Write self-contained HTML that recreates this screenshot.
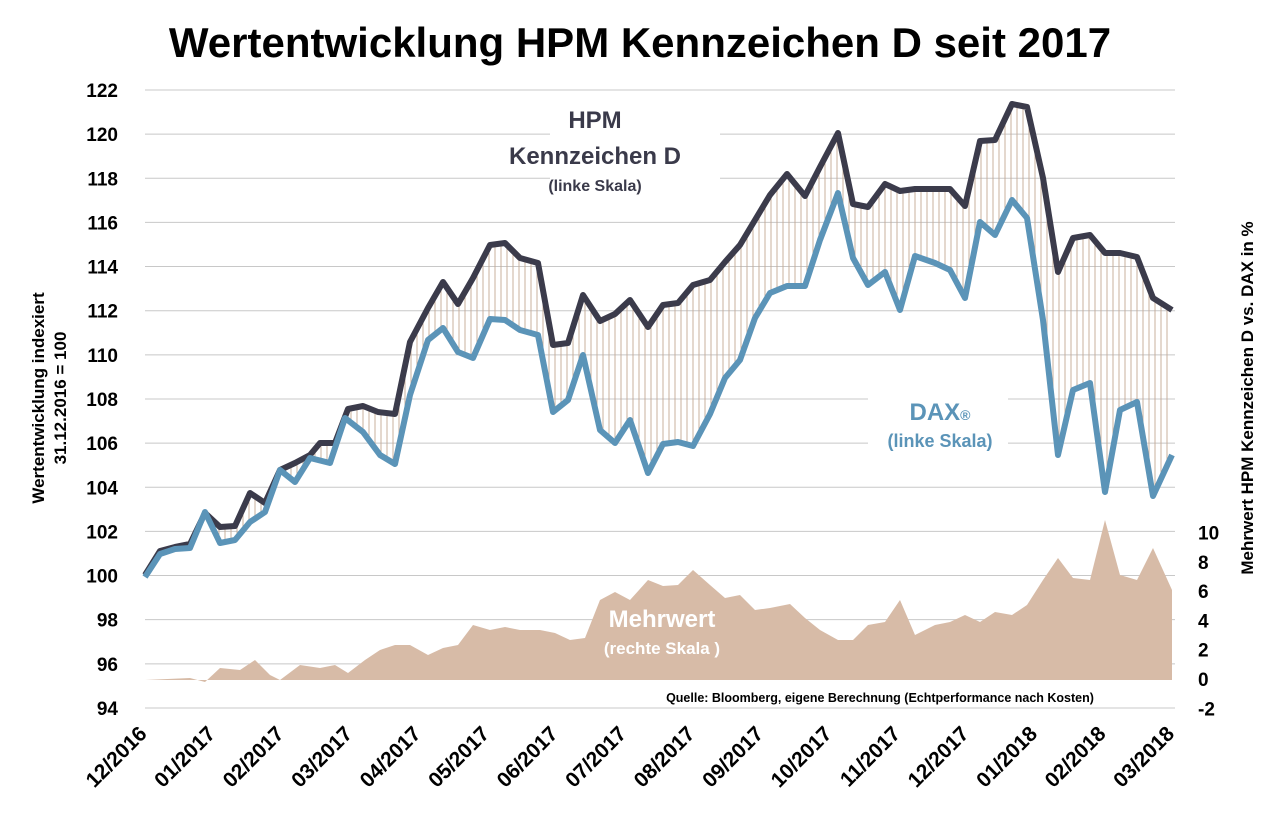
<!DOCTYPE html>
<html><head><meta charset="utf-8"><style>
body{margin:0;background:#fff;}
svg{display:block;font-family:"Liberation Sans",sans-serif;}
</style></head><body>
<svg id="s" width="1275" height="822" viewBox="0 0 1275 822">
<text x="640" y="57" text-anchor="middle" font-size="42" font-weight="bold" fill="#000">Wertentwicklung HPM Kennzeichen D seit 2017</text>
<g id="grid"></g>
<g id="area"></g>
<g id="hatch"></g>
<g id="lines"></g>
<g id="labels"></g>
<rect x="550" y="100" width="170" height="95" fill="#fff"/>
<text x="595" y="128" text-anchor="middle" font-size="24" font-weight="bold" fill="#3a3a4a">HPM</text>
<text x="595" y="164" text-anchor="middle" font-size="24" font-weight="bold" fill="#3a3a4a">Kennzeichen D</text>
<text x="595" y="191" text-anchor="middle" font-size="16" font-weight="bold" fill="#3a3a4a">(linke Skala)</text>
<rect x="868" y="390" width="140" height="65" fill="#fff"/>
<text x="940" y="420" text-anchor="middle" font-size="24" font-weight="bold" fill="#5b94b8">DAX<tspan font-size="14">®</tspan></text>
<text x="940" y="447" text-anchor="middle" font-size="18" font-weight="bold" fill="#5b94b8">(linke Skala)</text>
<text x="662" y="627" text-anchor="middle" font-size="24" font-weight="bold" fill="#fff">Mehrwert</text>
<text x="662" y="654" text-anchor="middle" font-size="17" font-weight="bold" fill="#fff">(rechte Skala )</text>
<text x="880" y="702" text-anchor="middle" font-size="12.5" font-weight="bold" fill="#000">Quelle: Bloomberg, eigene Berechnung (Echtperformance nach Kosten)</text>
<text transform="translate(44,398) rotate(-90)" text-anchor="middle" font-size="17" font-weight="bold">Wertentwicklung indexiert</text>
<text transform="translate(66,398) rotate(-90)" text-anchor="middle" font-size="17" font-weight="bold">31.12.2016 = 100</text>
<text transform="translate(1253,398) rotate(-90)" text-anchor="middle" font-size="17" font-weight="bold">Mehrwert HPM Kennzeichen D vs. DAX in %</text>
</svg>
<script>
var NS="http://www.w3.org/2000/svg";
function el(p,t,a,txt){var e=document.createElementNS(NS,t);for(var k in a)e.setAttribute(k,a[k]);if(txt!==undefined)e.textContent=txt;document.getElementById(p).appendChild(e);return e;}
function yl(v){return 90+(122-v)*22.07;}
for(var v=94;v<=122;v+=2){var y=yl(v);el('grid','line',{x1:145,x2:1175,y1:y,y2:y,stroke:'#c8c8c8','stroke-width':1});
el('labels','text',{x:118,y:y+7,'text-anchor':'end','font-size':19,'font-weight':'bold'},v);}
for(var r=-2;r<=10;r+=2){var y=679-r*14.65;el('labels','text',{x:1198,y:y+7,'text-anchor':'start','font-size':19,'font-weight':'bold'},r);}
var ms=["12/2016","01/2017","02/2017","03/2017","04/2017","05/2017","06/2017","07/2017","08/2017","09/2017","10/2017","11/2017","12/2017","01/2018","02/2018","03/2018"];
for(var i=0;i<16;i++){var x=148+i*68.5;el('labels','text',{transform:'translate('+x+',735) rotate(-45)','text-anchor':'end','font-size':21,'font-weight':'bold'},ms[i]);}
var H=[[145,575],[160,551],[175,547],[190,544],[205,513],[220,527],[235,526],[250,493],[265,503],[280,470],[295,463],[310,455],[320,443],[335,443],[348,409],[363,406],[378,412],[395,414],[410,342],[428,308],[443,282],[458,304],[473,278],[490,245],[505,243],[520,258],[538,263],[553,345],[568,343],[583,295],[600,321],[615,314],[630,300],[648,327],[663,305],[678,303],[693,285],[710,280],[725,262],[740,245],[755,220],[770,195],[787,174],[805,196],[820,167],[838,133],[853,204],[868,207],[885,184],[900,191],[915,189],[935,189],[950,189],[965,206],[980,141],[995,140],[1012,104],[1027,107],[1043,178],[1058,272],[1073,238],[1090,235],[1105,253],[1120,253],[1137,257],[1153,298],[1172,310]];
var D=[[145,577],[160,554],[175,549],[190,548],[205,512],[220,543],[235,540],[250,522],[265,512],[280,470],[295,482],[310,458],[330,463],[345,418],[363,432],[380,455],[395,464],[410,395],[428,340],[443,328],[458,352],[473,358],[490,319],[505,320],[520,330],[538,335],[553,412],[568,400],[583,355],[600,430],[615,443],[630,420],[648,473],[663,444],[678,442],[693,446],[710,414],[725,378],[740,360],[755,318],[770,293],[787,286],[805,286],[820,240],[838,193],[853,258],[868,285],[885,272],[900,310],[915,256],[935,263],[950,270],[965,298],[980,222],[995,235],[1012,200],[1027,218],[1043,320],[1058,455],[1073,390],[1090,383],[1105,492],[1120,410],[1137,402],[1153,496],[1172,455]];
var A=[[145,680],[190,678],[205,682],[220,668],[240,670],[255,660],[270,675],[280,680],[300,665],[320,668],[335,665],[348,673],[365,660],[380,650],[395,645],[410,645],[428,655],[443,648],[458,645],[473,625],[490,630],[505,627],[520,630],[540,630],[555,633],[570,640],[585,638],[600,600],[615,592],[630,600],[648,580],[663,586],[678,585],[693,570],[710,585],[725,598],[740,595],[755,610],[770,608],[790,604],[805,618],[820,630],[838,640],[853,640],[868,625],[885,622],[900,600],[915,635],[935,625],[950,622],[965,615],[980,622],[995,612],[1012,615],[1027,605],[1043,580],[1058,558],[1073,578],[1090,580],[1105,520],[1120,575],[1137,580],[1153,548],[1172,590],[1172,680]];
el('area','path',{d:'M'+A.map(function(p){return p.join(',')}).join(' L')+' L145,680 Z',fill:'#d7bba7'});
function interp(S,x){for(var i=0;i<S.length-1;i++){if(x>=S[i][0]&&x<=S[i+1][0]){var t=(x-S[i][0])/(S[i+1][0]-S[i][0]);return S[i][1]+t*(S[i+1][1]-S[i][1]);}}return S[S.length-1][1];}
for(var x=147;x<1172;x+=6){var a=interp(H,x),b=interp(D,x);el('hatch','line',{x1:x,x2:x,y1:a,y2:b,stroke:'#c4a894','stroke-width':0.9});}
function pl(S,c){el('lines','polyline',{points:S.map(function(p){return p.join(',')}).join(' '),fill:'none',stroke:c,'stroke-width':6,'stroke-linejoin':'round'});}
pl(H,'#3b3b4b');pl(D,'#5b94b8');
</script>
</body></html>
